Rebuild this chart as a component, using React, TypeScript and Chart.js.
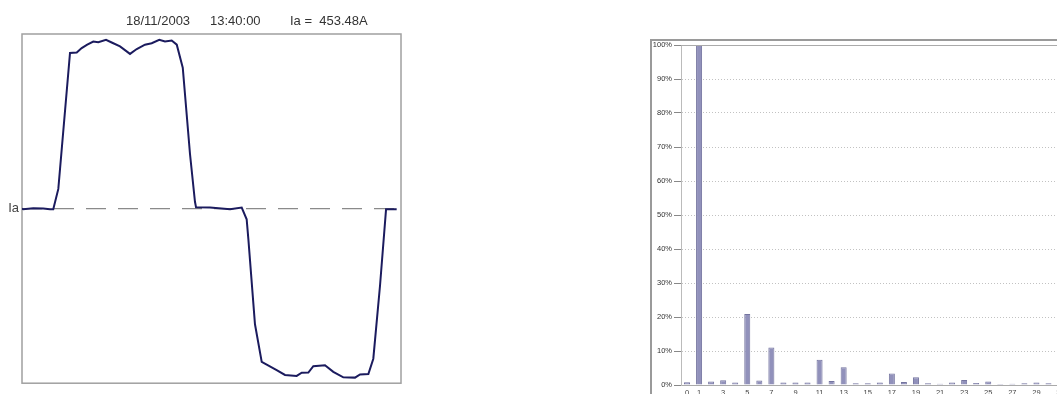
import React, { useEffect, useRef } from 'react';
import { Chart, registerables } from 'chart.js';

Chart.register(...registerables);
Chart.defaults.font.family = 'Arial, "Liberation Sans", sans-serif';

// ---- Waveform (left) ----
const waveDeg = [0, 1.2, 10.7, 20.2, 26.6, 29.7, 34.5, 45.6, 52.0, 56.7, 62.0, 67.7, 72.5, 79.8, 85.2, 93.1, 102.6, 109.0, 116.8, 123.2, 130.4, 135.8, 142.2, 147.0, 152.7, 159.6, 164.3, 165.3, 178.6, 197.6, 208.7, 213.4, 215.0, 221.3, 227.7, 241.9, 249.8, 260.9, 265.7, 272.0, 276.7, 287.8, 295.7, 305.2, 316.3, 321.1, 329.0, 333.7, 340.1, 345.8, 355.9];
const waveAmp = [0, -3, 1, 0, -3, -3, 81, 642, 644, 662, 676, 689, 686, 696, 685, 669, 638, 658, 676, 682, 696, 689, 693, 676, 581, 224, 28, 6, 5, -3, 4, -44, -125, -477, -632, -666, -686, -690, -677, -676, -650, -646, -673, -696, -697, -684, -682, -619, -316, -3, -3];
const waveAxisLabel = 'Ia';
const titleDate = '18/11/2003';
const titleTime = '13:40:00';
const titleValue = 'Ia =  453.48A';

// ---- Harmonic spectrum (right) ----
const harmonicOrders = Array.from({ length: 41 }, (_, i) => String(i));
const harmonicPct = [0.8, 100, 1.0, 1.4, 0.7, 20.9, 1.3, 11.0, 0.7, 0.7, 0.7, 7.4, 1.2, 5.2, 0.5, 0.5, 0.7, 3.4, 0.9, 2.3, 0.5, 0.4, 0.7, 1.5, 0.6, 1.0, 0.3, 0.4, 0.5, 0.7, 0.5, 0.4, 0.3, 0.4, 0.3, 0.3, 0.2, 0.3, 0.2, 0.2, 0.2];

const FONT = 'Arial, "Liberation Sans", sans-serif';

const leftPlugin = {
  id: 'leftFrame',
  beforeDatasetsDraw(chart: any) {
    const { ctx, chartArea: a } = chart;
    ctx.save();
    ctx.strokeStyle = '#a0a0a0';
    ctx.lineWidth = 1.5;
    ctx.strokeRect(a.left, a.top, a.right - a.left, a.bottom - a.top);
    ctx.restore();
  },
  afterDraw(chart: any) {
    const { ctx, chartArea: a } = chart;
    ctx.save();
    ctx.font = '13px ' + FONT;
    ctx.fillStyle = '#333';
    ctx.textBaseline = 'middle';
    ctx.textAlign = 'left';
    const y = a.top - 13;
    ctx.fillText(titleDate, a.left + 104, y);
    ctx.fillText(titleTime, a.left + 188, y);
    ctx.fillText(titleValue, a.left + 268, y);
    ctx.restore();
  },
};

const rightPlugin = {
  id: 'rightFrame',
  afterDraw(chart: any) {
    const { ctx, chartArea: a, width, height } = chart;
    ctx.save();
    ctx.strokeStyle = '#9a9a9a';
    ctx.lineWidth = 2;
    ctx.beginPath();
    ctx.moveTo(a.left - 30, height);
    ctx.lineTo(a.left - 30, a.top - 5);
    ctx.lineTo(width, a.top - 5);
    ctx.stroke();
    ctx.strokeStyle = '#aaaaaa';
    ctx.lineWidth = 1;
    ctx.beginPath();
    ctx.moveTo(a.left, a.top + 0.5);
    ctx.lineTo(a.right, a.top + 0.5);
    ctx.stroke();
    ctx.restore();
  },
};

function WaveChart() {
  const ref = useRef<HTMLCanvasElement>(null);
  useEffect(() => {
    const points = waveDeg.map((d, i) => ({ x: d, y: waveAmp[i] }));
    const chart = new Chart(ref.current!, {
      type: 'line',
      data: {
        datasets: [
          {
            data: points,
            borderColor: '#1b1b5e',
            borderWidth: 2,
            pointRadius: 0,
            tension: 0,
            order: 0,
          },
          {
            data: [{ x: 0, y: 0 }, { x: 360, y: 0 }],
            borderColor: '#8a8a8a',
            borderWidth: 1.2,
            borderDash: [20, 12],
            pointRadius: 0,
            order: 1,
          },
        ],
      },
      options: {
        responsive: false,
        animation: false,
        layout: { padding: { top: 34, right: 19, bottom: 4, left: 0 } },
        plugins: { legend: { display: false }, tooltip: { enabled: false } },
        scales: {
          x: { type: 'linear', min: 0, max: 360, display: false },
          y: {
            min: -720,
            max: 720,
            grid: { display: false, drawTicks: false },
            border: { display: false },
            ticks: {
              stepSize: 720,
              autoSkip: false,
              padding: 3,
              color: '#444',
              font: { size: 13 },
              callback: (v: any) => (v === 0 ? waveAxisLabel : ''),
            },
            afterFit: (s: any) => {
              s.width = 22;
            },
          },
        },
      },
      plugins: [leftPlugin],
    });
    return () => chart.destroy();
  }, []);
  return <canvas ref={ref} width={420} height={394} style={{ display: 'block' }} />;
}

function HarmonicChart() {
  const ref = useRef<HTMLCanvasElement>(null);
  useEffect(() => {
    const chart = new Chart(ref.current!, {
      type: 'bar',
      data: {
        labels: harmonicOrders,
        datasets: [
          {
            data: harmonicPct,
            backgroundColor: '#9191bb',
            borderColor: '#74749f',
            borderWidth: 1,
            categoryPercentage: 1,
            barPercentage: 0.5,
          },
        ],
      },
      options: {
        responsive: false,
        animation: false,
        layout: { padding: { top: 45, right: 25, bottom: 0, left: 0 } },
        plugins: { legend: { display: false }, tooltip: { enabled: false } },
        scales: {
          x: {
            grid: { display: false, drawTicks: false },
            border: { display: true, color: '#aaaaaa' },
            ticks: {
              autoSkip: false,
              maxRotation: 0,
              padding: 3,
              color: '#444',
              font: { size: 7.5 },
              callback: (_v: any, i: number) => (i === 0 || i % 2 === 1 ? harmonicOrders[i] : ''),
            },
            afterFit: (s: any) => {
              s.height = 9;
            },
          },
          y: {
            min: 0,
            max: 100,
            grid: { color: '#c2c2c2', tickColor: '#888', tickLength: 7, lineWidth: 1 },
            border: { display: true, color: '#bbbbbb', dash: [1, 2] },
            ticks: {
              stepSize: 10,
              padding: 2,
              color: '#333',
              font: { size: 7.5 },
              callback: (v: any) => v + '%',
            },
            afterFit: (s: any) => {
              s.width = 41;
            },
          },
        },
      },
      plugins: [rightPlugin],
    });
    return () => chart.destroy();
  }, []);
  return <canvas ref={ref} width={560} height={394} style={{ display: 'block' }} />;
}

export default function App() {
  return (
    <div style={{ position: 'fixed', left: 0, top: 0, width: 1057, height: 394, overflow: 'hidden', background: '#fff' }}>
      <div style={{ position: 'absolute', left: 0, top: 0 }}>
        <WaveChart />
      </div>
      <div style={{ position: 'absolute', left: 640, top: 0 }}>
        <HarmonicChart />
      </div>
    </div>
  );
}
